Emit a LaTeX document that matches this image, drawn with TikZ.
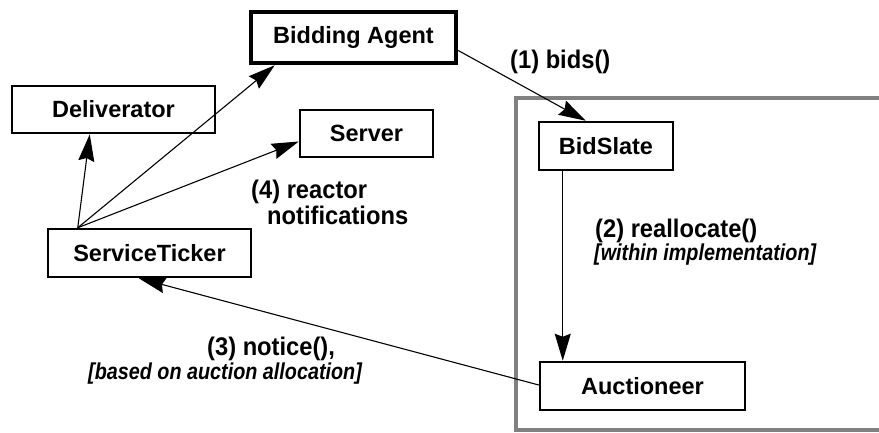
\documentclass[tikz,border=0pt]{standalone}
\usepackage{fontspec}
\setmainfont{Liberation Sans}
% narrower cut of the same family for the message labels
\newfontfamily\msgfont[FakeStretch=0.93]{Liberation Sans}
\newfontfamily\notefont[FakeStretch=0.86]{Liberation Sans}
\usetikzlibrary{arrows.meta}
\begin{document}
\begin{tikzpicture}[x=1pt,y=-1pt,
  box/.style={draw, line width=2.5pt, fill=white, inner sep=0pt,
    font=\fontsize{23.5}{26}\selectfont\bfseries},
  heavybox/.style={box, line width=4.5pt},
  msg/.style={-{Stealth[length=27pt,width=16pt,inset=3pt]}, line width=1.1pt},
  lbl/.style={inner sep=0pt, anchor=west, font=\msgfont\fontsize{25.5}{27}\selectfont\bfseries},
  note/.style={inner sep=0pt, anchor=west, font=\notefont\fontsize{23}{24}\selectfont\bfseries\itshape},
]
\clip (0,0) rectangle (879,432);
\fill[white] (0,0) rectangle (879,432);

% implementation boundary
\draw[line width=4.5pt, gray] (516,98) rectangle (920,430);

% components
\node[heavybox, minimum width=205pt, minimum height=51pt] (BA) at (353.5,37.5) {Bidding Agent};
\node[box, minimum width=203pt, minimum height=47pt] (DL) at (113.5,109.5) {Deliverator};
\node[box, minimum width=133pt, minimum height=47pt] (SV) at (366.5,133.5) {Server};
\node[box, minimum width=203pt, minimum height=48pt] (ST) at (149.5,253) {ServiceTicker};
\node[box, minimum width=134pt, minimum height=48pt] (BS) at (606,146) {BidSlate};
\node[box, minimum width=205pt, minimum height=48pt] (AU) at (642.5,386) {Auctioneer};

% message flow
\coordinate (fan) at ([xshift=31pt]ST.north west);
\draw[msg] (fan) -- ([xshift=79pt]DL.south west);
\draw[msg] (fan) -- ([xshift=26pt]BA.south west);
\draw[msg] (fan) -- ([yshift=-8pt]SV.west);
\draw[msg] ([yshift=-13pt]BA.east) -- ([xshift=48pt]BS.north west);
\draw[msg] ([xshift=25pt]BS.south west) -- ([xshift=24pt]AU.north west);
\draw[msg] ([yshift=1pt]AU.west) -- ([xshift=92pt]ST.south west);

% labels
\node[lbl] (l1) at (510,62) {(1) bids()};
\node[lbl] (l2) at (595,231) {(2) reallocate()};
\node[note] (l2b) at (594,255) {[within implementation]};
\node[lbl] (l3) at (207,349) {(3) notice(),};
\node[note] (l3b) at (88,374) {[based on auction allocation]};
\node[lbl] (l4) at (251,192) {(4) reactor};
\node[lbl] (l4b) at (267,215) {notifications};
\end{tikzpicture}
\end{document}
